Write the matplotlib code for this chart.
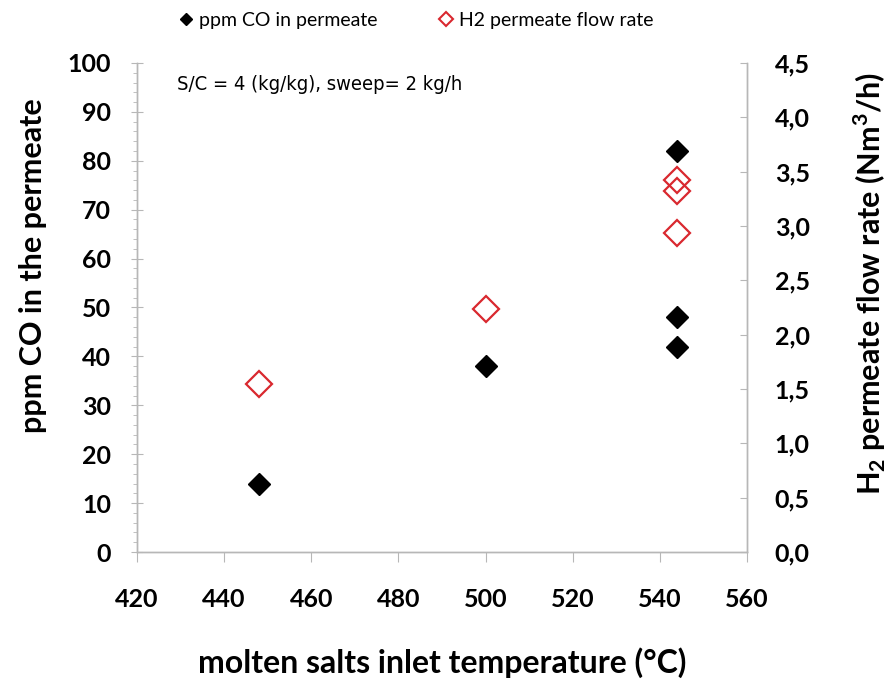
import numpy as np
import matplotlib
matplotlib.use('Agg')
import matplotlib.pyplot as plt
from matplotlib.lines import Line2D
from matplotlib.ticker import MultipleLocator, FuncFormatter

# data
temp_co = [448, 500, 544, 544, 544]
ppm_co = [14, 38, 82, 48, 42]
temp_h2 = [448, 500, 544, 544, 544]
h2_flow = [1.55, 2.24, 3.42, 3.32, 2.94]

x_ticks = [420, 440, 460, 480, 500, 520, 540, 560]
left_ticks = list(range(0, 101, 10))
right_ticks = [0.0, 0.5, 1.0, 1.5, 2.0, 2.5, 3.0, 3.5, 4.0, 4.5]

plt.rcParams['font.family'] = ['Lato', 'DejaVu Sans']
plt.rcParams['mathtext.fontset'] = 'custom'
plt.rcParams['mathtext.rm'] = 'Lato'
plt.rcParams['mathtext.bf'] = 'Lato:bold'
grey = '#b7b7b7'
red = '#d9282f'

fig = plt.figure(figsize=(8.92, 6.83), dpi=100)
ax = fig.add_axes([0.1536, 0.1918, 0.6838, 0.716])
ax2 = ax.twinx()

ax.plot(temp_co, ppm_co, linestyle='none', marker='D', ms=11, color='black', zorder=3)
ax2.plot(temp_h2, h2_flow, linestyle='none', marker='D', ms=13, mfc='none', mec=red, mew=1.6, zorder=3)

ax.set_xlim(420, 560)
ax.set_ylim(0, 100)
ax2.set_ylim(0, 4.5)
ax.set_xticks(x_ticks)
ax.set_yticks(left_ticks)
ax.yaxis.set_minor_locator(MultipleLocator(2))
ax2.set_yticks(right_ticks)
ax2.yaxis.set_major_formatter(FuncFormatter(lambda v, p: ('%.1f' % v).replace('.', ',')))

for a in (ax, ax2):
    a.spines['top'].set_visible(False)
    for s in ('left', 'right', 'bottom'):
        a.spines[s].set_color(grey)
        a.spines[s].set_linewidth(1.0)

ax.tick_params(axis='x', direction='out', length=7, color=grey, labelsize=18, pad=19)
ax.tick_params(axis='y', which='major', direction='inout', length=9, color=grey, labelsize=18, pad=14)
ax.tick_params(axis='y', which='minor', direction='out', length=3, color=grey)
ax2.tick_params(axis='y', direction='in', length=5, color=grey, labelsize=18, pad=20)
for lab in ax.get_xticklabels() + ax.get_yticklabels() + ax2.get_yticklabels():
    lab.set_fontweight('bold')

ax.set_ylabel('ppm CO in the permeate', fontsize=22, fontweight='bold')
ax.yaxis.set_label_coords(-0.148, 0.585)
ax2.set_ylabel('H$_\\mathbf{2}$ permeate flow rate (Nm$^\\mathbf{3}$/h)', fontsize=22,
               fontweight='bold')
ax2.yaxis.set_label_coords(1.172, 0.55)
ax.set_xlabel('molten salts inlet temperature (°C)', fontsize=23, fontweight='bold')
ax.xaxis.set_label_coords(0.5, -0.194)

ax.text(0.065, 0.975, 'S/C = 4 (kg/kg), sweep= 2 kg/h', transform=ax.transAxes,
        ha='left', va='top', fontsize=14.5, family='DejaVu Sans', stretch='condensed')

handles = [Line2D([], [], linestyle='none', marker='D', ms=6, color='black'),
           Line2D([], [], linestyle='none', marker='D', ms=7, mfc='none', mec=red, mew=1.5)]
fig.legend(handles, ['ppm CO in permeate', 'H2 permeate flow rate'], loc='center',
           bbox_to_anchor=(0.465, 0.97), ncol=2, frameon=False, fontsize=14,
           handletextpad=0.2, columnspacing=3.0, handlelength=1.0)

plt.savefig('out.png', dpi=100)
